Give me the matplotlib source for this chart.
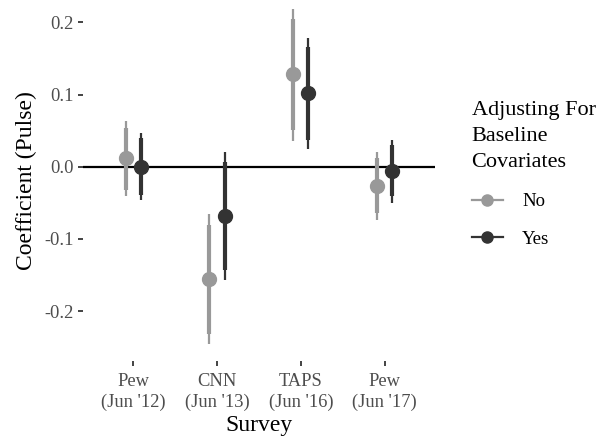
import numpy as np
import matplotlib.pyplot as plt
from matplotlib.lines import Line2D

plt.rcParams['font.family'] = ['Liberation Serif', 'DejaVu Serif']

surveys = ["Pew\n(Jun '12)", "CNN\n(Jun '13)", "TAPS\n(Jun '16)", "Pew\n(Jun '17)"]

# estimates, thin (95%) and thick (90%) interval ends
no_est = [0.012, -0.156, 0.128, -0.027]
no_lo95 = [-0.041, -0.246, 0.036, -0.074]
no_hi95 = [0.063, -0.066, 0.219, 0.020]
no_lo90 = [-0.032, -0.232, 0.051, -0.064]
no_hi90 = [0.054, -0.080, 0.204, 0.012]

yes_est = [0.000, -0.068, 0.102, -0.006]
yes_lo95 = [-0.046, -0.157, 0.024, -0.050]
yes_hi95 = [0.047, 0.021, 0.179, 0.037]
yes_lo90 = [-0.039, -0.143, 0.037, -0.041]
yes_hi90 = [0.040, 0.007, 0.166, 0.030]

c_no = '#999999'
c_yes = '#333333'

fig = plt.figure(figsize=(6.05, 4.37), dpi=100)
ax = fig.add_axes([0.137, 0.174, 0.582, 0.826])

x = np.arange(1, len(surveys) + 1)
d = 0.09

ax.axhline(0, color='black', lw=1.6, zorder=1)

for off, col, est, lo95, hi95, lo90, hi90 in [
        (-d, c_no, no_est, no_lo95, no_hi95, no_lo90, no_hi90),
        (d, c_yes, yes_est, yes_lo95, yes_hi95, yes_lo90, yes_hi90)]:
    xs = x + off
    ax.vlines(xs, lo95, hi95, color=col, lw=1.6, zorder=2)
    ax.vlines(xs, lo90, hi90, color=col, lw=3.0, zorder=2)
    ax.plot(xs, est, 'o', color=col, ms=10, zorder=3)

ax.set_xlim(0.4, 4.6)
ax.set_ylim(-0.269, 0.231)
ax.set_xticks(x)
ax.set_xticklabels(surveys, linespacing=1.3)
ax.set_yticks([-0.2, -0.1, 0.0, 0.1, 0.2])
ax.set_yticklabels(['-0.2', '-0.1', '0.0', '0.1', '0.2'])
ax.tick_params(axis='both', colors='#222222', labelcolor='#4D4D4D',
               labelsize=13.3, length=3.5, width=1.2)
ax.tick_params(axis='x', pad=5)
ax.tick_params(axis='y', pad=3)
for s in ax.spines.values():
    s.set_visible(False)

ax.set_xlabel('Survey', fontsize=17, labelpad=3)
ax.set_ylabel('Coefficient (Pulse)', fontsize=17, labelpad=5)

handles = [
    Line2D([], [], color=c_no, lw=1.6, marker='o', ms=8),
    Line2D([], [], color=c_yes, lw=1.6, marker='o', ms=8),
]
leg = fig.legend(handles, ['No', 'Yes'],
                 title='Adjusting For\nBaseline\nCovariates',
                 loc='upper left', bbox_to_anchor=(0.767, 0.785),
                 frameon=False, fontsize=13.5, title_fontsize=16,
                 handlelength=1.7, labelspacing=1.1, handletextpad=1.0,
                 borderaxespad=0)
leg._legend_box.align = 'left'
leg.get_title().set_linespacing(1.5)

fig.savefig('out.png', dpi=100)
